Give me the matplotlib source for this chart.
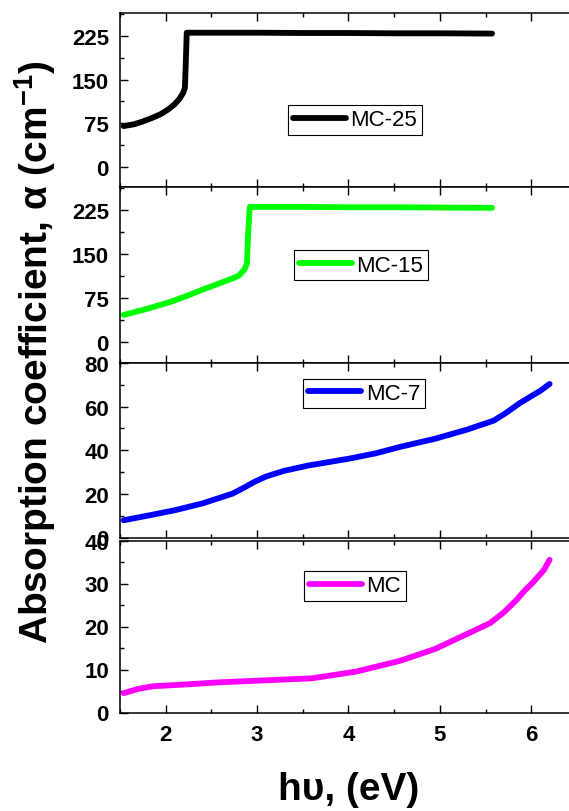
import matplotlib
matplotlib.use('Agg')
import matplotlib.pyplot as plt
from matplotlib.ticker import MultipleLocator

# データ
x_mc25 = [1.54, 1.65, 1.75, 1.85, 1.95, 2.03, 2.10, 2.15, 2.19, 2.21, 2.22, 2.23, 2.5, 3.0, 3.5, 4.0, 4.5, 5.0, 5.57]
y_mc25 = [70, 73, 78, 84, 91, 99, 108, 117, 127, 136, 180, 231, 231, 231, 230.5, 230.5, 230, 230, 229.5]

x_mc15 = [1.54, 1.8, 2.05, 2.25, 2.41, 2.6, 2.73, 2.80, 2.86, 2.89, 2.90, 2.92, 3.0, 3.5, 4.0, 4.5, 5.0, 5.57]
y_mc15 = [47, 57.5, 69, 80.5, 90.5, 101.5, 109, 114, 124, 135, 180, 231, 231, 231, 230.5, 230.5, 230, 229.5]

x_mc7 = [1.54, 1.8, 2.1, 2.4, 2.73, 2.85, 2.97, 3.1, 3.29, 3.56, 4.0, 4.3, 4.56, 4.95, 5.3, 5.59, 5.73, 5.87, 6.0, 6.1, 6.2]
y_mc7 = [7.9, 10, 12.5, 15.6, 20.1, 22.7, 25.5, 28, 30.5, 33, 36.1, 38.6, 41.5, 45.3, 49.5, 53.6, 57.3, 61.5, 64.8, 67.3, 70.4]

x_mc = [1.54, 1.7, 1.86, 2.2, 2.57, 3.0, 3.6, 4.08, 4.56, 4.95, 5.27, 5.55, 5.7, 5.83, 5.93, 6.02, 6.14, 6.2]
y_mc = [4.5, 5.5, 6.1, 6.5, 7.0, 7.4, 7.95, 9.5, 12.0, 14.8, 18.0, 20.8, 23.3, 26, 28.4, 30.3, 33.2, 35.5]

labels = ["MC-25", "MC-15", "MC-7", "MC"]
colors = ["black", "#00ff00", "#0000ff", "#ff00ff"]
ylims = [(-35, 265), (-35, 265), (0, 80), (0, 40)]
yticks = [[0, 75, 150, 225], [0, 75, 150, 225], [0, 20, 40, 60, 80], [0, 10, 20, 30, 40]]
yminor = [37.5, 37.5, 10, 5]

# 書式設定
plt.rcParams['font.family'] = ['Liberation Sans', 'DejaVu Sans']
plt.rcParams['font.weight'] = 'bold'
plt.rcParams['mathtext.fontset'] = 'custom'
plt.rcParams['mathtext.rm'] = 'Liberation Sans:bold'
plt.rcParams['mathtext.bf'] = 'Liberation Sans:bold'
plt.rcParams['mathtext.default'] = 'bf'
plt.rcParams['xtick.direction'] = 'in'
plt.rcParams['ytick.direction'] = 'in'
plt.rcParams['axes.linewidth'] = 1.1

W, H = 569, 812
fig = plt.figure(figsize=(W / 100, H / 100), dpi=100)

# パネル位置 (ピクセル)
left, right = 120, 577
panels = [(14, 188), (188, 364), (364, 538.5), (541.5, 713.5)]
leg_centers = [(355, 121), (361, 266), (364, 394.5), (355, 587)]

xs = [x_mc25, x_mc15, x_mc7, x_mc]
ys = [y_mc25, y_mc15, y_mc7, y_mc]

for i in range(4):
    top, bottom = panels[i]
    ax = fig.add_axes([left / W, 1 - bottom / H, (right - left) / W, (bottom - top) / H])
    ax.plot(xs[i], ys[i], color=colors[i], linewidth=4.2, solid_capstyle='round',
            solid_joinstyle='round', label=labels[i])
    ax.set_xlim(1.5, 6.5)
    ax.set_ylim(*ylims[i])
    ax.set_yticks(yticks[i])
    ax.yaxis.set_minor_locator(MultipleLocator(yminor[i]))
    ax.xaxis.set_major_locator(MultipleLocator(1))
    ax.xaxis.set_minor_locator(MultipleLocator(0.5))
    ax.tick_params(which='major', length=5.8, width=1, labelsize=16, pad=8,
                   top=True, right=True)
    ax.tick_params(which='minor', length=2.9, width=1, top=True, right=True)
    if i < 3:
        ax.tick_params(labelbottom=False)
    cx, cy = leg_centers[i]
    leg = ax.legend(loc='center', bbox_to_anchor=(cx / W, 1 - cy / H),
                    bbox_transform=fig.transFigure,
                    prop={'size': 16, 'weight': 'normal'},
                    fancybox=False, edgecolor='black', framealpha=1,
                    borderpad=0.2, handlelength=2.4, handletextpad=0.2,
                    borderaxespad=0)
    leg.get_frame().set_linewidth(0.8)

# 軸ラベル
fig.text(35 / W, 1 - 352 / H, r'Absorption coefficient, α (cm$^{-1}$)',
         rotation=90, ha='center', va='center', fontsize=28, fontweight='bold')
fig.text(349 / W, 1 - 790 / H, 'hυ, (eV)', ha='center', va='center',
         fontsize=28, fontweight='bold')

fig.savefig('out.png', dpi=100)
